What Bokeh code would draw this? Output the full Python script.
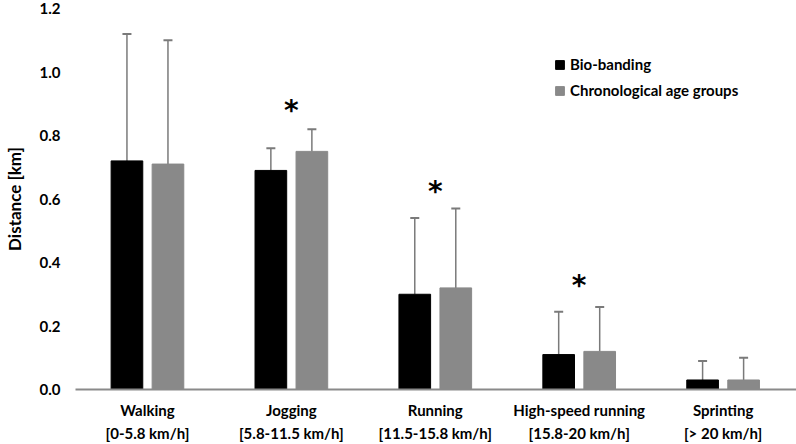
from bokeh.plotting import figure
from bokeh.models import ColumnDataSource, Whisker, Legend, LegendItem, FixedTicker, Range1d
from bokeh.core.properties import value
from bokeh.embed import file_html
from bokeh.resources import INLINE

categories = ["Walking\n[0-5.8 km/h]", "Jogging\n[5.8-11.5 km/h]", "Running\n[11.5-15.8 km/h]",
              "High-speed running\n[15.8-20 km/h]", "Sprinting\n[> 20 km/h]"]
bio = [0.72, 0.69, 0.30, 0.11, 0.03]
bio_upper = [1.12, 0.76, 0.54, 0.245, 0.09]
chron = [0.71, 0.75, 0.32, 0.12, 0.03]
chron_upper = [1.10, 0.82, 0.57, 0.26, 0.10]
sig_idx = [1, 2, 3]
sig_y = [0.93, 0.675, 0.38]
yticks = [0.0, 0.2, 0.4, 0.6, 0.8, 1.0, 1.2]

FONT = "Lato"
BLACK = "#000000"
GRAY = "#898989"
WHISK = "#7a7a7a"

idx = list(range(len(categories)))
off = 0.1425
bw = 0.22

src_b = ColumnDataSource(dict(x=[i - off for i in idx], top=bio, up=bio_upper))
src_c = ColumnDataSource(dict(x=[i + off for i in idx], top=chron, up=chron_upper))
src_s = ColumnDataSource(dict(x=sig_idx, y=sig_y, t=["*"] * len(sig_idx)))

p = figure(width=796, height=444, output_backend="svg", toolbar_location=None,
           x_range=Range1d(-0.5, 4.51), y_range=Range1d(0, 1.2),
           min_border_left=75, min_border_right=0, min_border_top=8, min_border_bottom=20)
p.outline_line_color = None
p.grid.grid_line_color = None
p.background_fill_color = "white"
p.border_fill_color = "white"

wb = Whisker(source=src_b, base="x", lower="top", upper="up", dimension="height",
             line_color=WHISK, line_width=1.5, lower_head=None)
wb.upper_head.size = 9
wb.upper_head.line_color = WHISK
wb.upper_head.line_width = 2
wc = Whisker(source=src_c, base="x", lower="top", upper="up", dimension="height",
             line_color=WHISK, line_width=1.5, lower_head=None)
wc.upper_head.size = 9
wc.upper_head.line_color = WHISK
wc.upper_head.line_width = 2
p.add_layout(wb)
p.add_layout(wc)

rb = p.vbar(x="x", top="top", width=bw, source=src_b, fill_color=BLACK, line_color=BLACK)
rc = p.vbar(x="x", top="top", width=bw, source=src_c, fill_color=GRAY, line_color=GRAY)

p.text(x="x", y="y", text="t", source=src_s, text_font=value("DejaVu Sans"), text_font_style="bold",
       text_font_size="28px", text_align="center", text_baseline="top", text_color="black")

legend = Legend(items=[LegendItem(label="Bio-banding", renderers=[rb]),
                       LegendItem(label="Chronological age groups", renderers=[rc])],
                location=(479, 289), orientation="vertical",
                glyph_width=11, glyph_height=11, label_height=20, spacing=6,
                padding=4, margin=0, label_standoff=5,
                label_text_font=FONT, label_text_font_style="bold", label_text_font_size="15px",
                label_text_color="black", border_line_color=None, background_fill_alpha=0)
p.add_layout(legend, "center")

p.xaxis.ticker = FixedTicker(ticks=idx)
p.xaxis.major_label_overrides = {i: c for i, c in zip(idx, categories)}
p.xaxis.major_tick_line_color = None
p.xaxis.minor_tick_line_color = None
p.xaxis.major_tick_out = 0
p.xaxis.major_tick_in = 0
p.xaxis.axis_line_color = "#8a8a8a"
p.xaxis.axis_line_width = 2
p.xaxis.major_label_text_font = FONT
p.xaxis.major_label_text_font_style = "bold"
p.xaxis.major_label_text_font_size = "15px"
p.xaxis.major_label_text_line_height = 1.28
p.xaxis.major_label_text_color = "black"
p.xaxis.major_label_standoff = 11

p.yaxis.ticker = FixedTicker(ticks=yticks)
p.yaxis.major_label_overrides = {t: f"{t:.1f}" for t in yticks}
p.yaxis.axis_line_color = None
p.yaxis.major_tick_line_color = None
p.yaxis.minor_tick_line_color = None
p.yaxis.major_tick_out = 0
p.yaxis.major_tick_in = 0
p.yaxis.major_label_text_font = FONT
p.yaxis.major_label_text_font_style = "bold"
p.yaxis.major_label_text_font_size = "15px"
p.yaxis.major_label_text_color = "black"
p.yaxis.major_label_standoff = 15
p.yaxis.axis_label = "Distance [km]"
p.yaxis.axis_label_text_font = FONT
p.yaxis.axis_label_text_font_style = "bold"
p.yaxis.axis_label_text_font_size = "17px"
p.yaxis.axis_label_text_color = "black"
p.yaxis.axis_label_standoff = 12

open("out.html", "w").write(file_html(p, INLINE))
